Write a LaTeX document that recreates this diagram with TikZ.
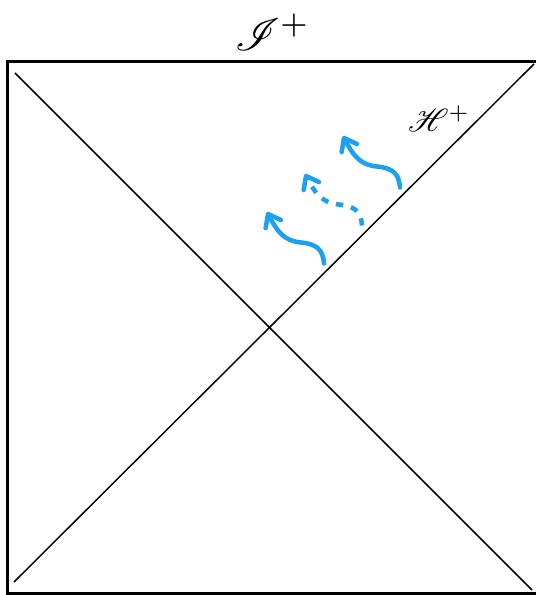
\documentclass[tikz,border=0pt]{standalone}
\usepackage{amsmath,mathrsfs}
\usetikzlibrary{arrows.meta}
\definecolor{hawking}{RGB}{28,160,240}
\tikzset{
  frame/.style={line width=2.4pt,line join=miter},
  null/.style={line width=1.1pt},
  quantum/.style={hawking,line width=3.4pt,line cap=round,
    -{Straight Barb[length=8.5pt,width=13pt,line cap=round,line join=round]}},
  virtual/.style={quantum,line cap=butt,dash pattern=on 5.5pt off 6pt},
  boundary/.style={inner sep=0pt}
}

\begin{document}
\begin{tikzpicture}[x=0.75pt,y=-0.75pt]
\useasboundingbox (0,0) rectangle (536,595);
% conformal boundary
\draw[frame] (536,61.5) -| (7.5,593.5) -- (536,593.5);
\coordinate (pastl) at (15,73);
\coordinate (futr) at (532,590);
\coordinate (pastr) at (14,582);
\coordinate (hor) at (534,64);
\draw[null] (pastl) -- (futr);
\draw[null] (pastr) -- (hor);
% labels
\node[boundary,scale=3.4] (scri) at (272.5,32) {$\mathscr{I}^+$};
\node[boundary,scale=2.4] (horizon) at (439,118.5) {$\mathscr{H}^+$};
% radiation leaving the horizon
\foreach \i/\look in {0/quantum,1/virtual,2/quantum}{
  \begin{scope}[shift={(38*\i,-38*\i)}]
    \coordinate (emit\i) at (324,263.5);
    \coordinate (tip\i) at (267,212);
    \draw[\look] (emit\i) .. controls (323,250) and (317,244) .. (301,242.5)
      .. controls (285,241) and (278,233) .. (tip\i);
  \end{scope}
}
\end{tikzpicture}
\end{document}
